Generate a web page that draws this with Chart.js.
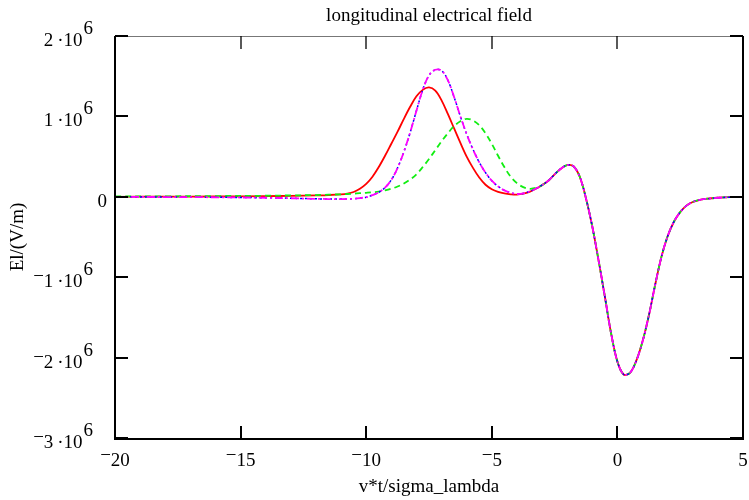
<!DOCTYPE html>
<html>
<head>
<meta charset="utf-8">
<script src="https://cdn.jsdelivr.net/npm/chart.js@4.4.1/dist/chart.umd.min.js"></script>
<style>
  html, body { margin: 0; padding: 0; background: #fff; }
  canvas { display: block; }
</style>
</head>
<body>
<canvas id="fieldChart" width="749" height="500"></canvas>
<script>
// x: v*t/sigma_lambda
const xValues = [-20, -18, -16, -14, -13, -12, -11.5, -11, -10.75, -10.5, -10.25, -10,
  -9.75, -9.5, -9.25, -9, -8.75, -8.5, -8.25, -8, -7.75, -7.5, -7.25, -7,
  -6.75, -6.5, -6.25, -6, -5.75, -5.5, -5.25, -5, -4.75, -4.5, -4.25, -4,
  -3.75, -3.5, -3.25,
  -3, -2.75, -2.5, -2.25, -2, -1.75, -1.5, -1.25, -1, -0.75, -0.5, -0.25,
  0, 0.25, 0.5, 0.75, 1, 1.25, 1.5, 1.75, 2, 2.25, 2.5, 2.75, 3, 3.25, 3.5, 4, 4.5, 5];

// El in 1e6 V/m, first part (x < -3) differs per curve
const redHead = [0, 0.002, 0.004, 0.008, 0.012, 0.018, 0.022, 0.03, 0.04, 0.06, 0.1, 0.16,
  0.25, 0.37, 0.51, 0.66, 0.81, 0.97, 1.12, 1.25, 1.33, 1.36, 1.32, 1.2,
  1.03, 0.85, 0.67, 0.5, 0.36, 0.24, 0.15, 0.095, 0.062, 0.042, 0.031, 0.027,
  0.038, 0.062, 0.1];
const greenHead = [0.004, 0.006, 0.009, 0.013, 0.017, 0.022, 0.026, 0.031, 0.035, 0.04, 0.045, 0.05,
  0.056, 0.065, 0.08, 0.1, 0.128, 0.165, 0.215, 0.28, 0.37, 0.47, 0.58, 0.69,
  0.79, 0.88, 0.94, 0.97, 0.95, 0.89, 0.79, 0.66, 0.51, 0.37, 0.25, 0.17,
  0.12, 0.1, 0.11];
const magentaHead = [0, -0.003, -0.006, -0.012, -0.018, -0.025, -0.028, -0.028, -0.027, -0.024, -0.016, -0.005,
  0.02, 0.055, 0.115, 0.21, 0.36, 0.56, 0.8, 1.07, 1.33, 1.51, 1.58, 1.57,
  1.45, 1.24, 1.0, 0.78, 0.59, 0.43, 0.3, 0.2, 0.13, 0.08, 0.05, 0.035,
  0.042, 0.066, 0.1];
// x >= -3: all curves lie on top of each other
const commonTail = [0.145, 0.2, 0.28, 0.35, 0.395, 0.38, 0.25, -0.02, -0.37, -0.79, -1.24, -1.7,
  -2.05, -2.21, -2.19, -2.04, -1.8, -1.48, -1.1, -0.75, -0.49, -0.31, -0.19, -0.11, -0.065, -0.04, -0.027,
  -0.012, -0.004, 0];

const xTicks = [-20, -15, -10, -5, 0, 5];
const yTicks = [-3, -2, -1, 0, 1, 2];   // times 10^6
const UNIT = 1e6;

const FONT = '19px "Liberation Serif", "Times New Roman", serif';

function toPoints(head) {
    const ys = head.concat(commonTail);
    return xValues.map((x, i) => ({ x: x, y: ys[i] * UNIT }));
}

// number with the raised minus sign of the original
function drawSigned(ctx, str, x, y, align) {
    const neg = str.startsWith('-');
    const body = neg ? str.slice(1) : str;
    const wm = neg ? ctx.measureText('\u2212').width : 0;
    const total = wm + ctx.measureText(body).width;
    let left = x;
    if (align === 'center') left = x - total / 2;
    if (align === 'right') left = x - total;
    ctx.textAlign = 'left';
    if (neg) ctx.fillText('\u2212', left, y - 5);
    ctx.fillText(body, left + wm, y);
}

const framePlugin = {
    id: 'frame',
    afterDraw(chart) {
        const ctx = chart.ctx;
        const a = chart.chartArea;
        const xs = chart.scales.x, ys = chart.scales.y;
        ctx.save();
        ctx.lineCap = 'butt';

        // top line, thin gray
        ctx.strokeStyle = '#777';
        ctx.lineWidth = 1;
        ctx.beginPath();
        ctx.moveTo(a.left, a.top + 0.5);
        ctx.lineTo(a.right, a.top + 0.5);
        ctx.stroke();

        ctx.strokeStyle = '#000';
        ctx.lineWidth = 2;
        ctx.beginPath();
        ctx.moveTo(a.left, a.top);
        ctx.lineTo(a.left, a.bottom + 1);
        ctx.lineTo(a.right, a.bottom + 1);
        ctx.lineTo(a.right, a.top);
        ctx.stroke();

        // y ticks, inside on both sides
        yTicks.forEach(v => {
            const py = Math.round(ys.getPixelForValue(v * UNIT));
            ctx.beginPath();
            ctx.moveTo(a.left, py);
            ctx.lineTo(a.left + 13, py);
            ctx.moveTo(a.right - 13, py);
            ctx.lineTo(a.right, py);
            ctx.stroke();
        });
        // x ticks, bottom and top
        xTicks.forEach(v => {
            const px = Math.round(xs.getPixelForValue(v));
            ctx.lineWidth = 2;
            ctx.beginPath();
            ctx.moveTo(px, a.bottom);
            ctx.lineTo(px, a.bottom - 12);
            ctx.stroke();
            ctx.lineWidth = 1.3;
            ctx.beginPath();
            ctx.moveTo(px, a.top);
            ctx.lineTo(px, a.top + 13);
            ctx.stroke();
        });

        ctx.fillStyle = '#000';
        ctx.font = FONT;
        ctx.textBaseline = 'middle';

        // x tick labels
        xTicks.forEach(v => {
            drawSigned(ctx, String(v), xs.getPixelForValue(v), a.bottom + 23, 'center');
        });

        // y tick labels with 10^6
        yTicks.forEach(v => {
            const py = ys.getPixelForValue(v * UNIT) + 5;
            if (v === 0) {
                drawSigned(ctx, '0', 107, py, 'right');
                return;
            }
            const expW = ctx.measureText('6').width;
            const right = 93;
            ctx.textAlign = 'left';
            ctx.fillText('6', right - expW, py - 12);
            drawSigned(ctx, String(v) + '\u2009\u00b710', right - expW - 1, py, 'right');
        });

        // titles
        ctx.textAlign = 'center';
        ctx.fillText('longitudinal electrical field', (a.left + a.right) / 2, 16);
        ctx.fillText('v*t/sigma_lambda', (a.left + a.right) / 2, 487);
        ctx.save();
        ctx.translate(18, (a.top + a.bottom) / 2);
        ctx.rotate(-Math.PI / 2);
        ctx.fillText('El/(V/m)', 0, 0);
        ctx.restore();

        ctx.restore();
    }
};

const lineBase = {
    pointRadius: 0,
    fill: false,
    tension: 0.35
};

// first dataset is painted last, so magenta comes first
new Chart(document.getElementById('fieldChart'), {
    type: 'line',
    data: {
        datasets: [
            Object.assign({}, lineBase, {
                data: toPoints(magentaHead),
                borderColor: '#ff00ff',
                borderWidth: 1.8,
                borderDash: [8, 3, 2, 3]
            }),
            Object.assign({}, lineBase, {
                data: toPoints(magentaHead),
                borderColor: '#0000ff',
                borderWidth: 1.5,
                borderDash: [2, 3]
            }),
            Object.assign({}, lineBase, {
                data: toPoints(greenHead),
                borderColor: '#11ee11',
                borderWidth: 1.8,
                borderDash: [6, 4]
            }),
            Object.assign({}, lineBase, {
                data: toPoints(redHead),
                borderColor: '#ff0000',
                borderWidth: 1.8
            })
        ]
    },
    options: {
        responsive: false,
        animation: false,
        layout: { padding: { left: 115, right: 6, top: 36, bottom: 62 } },
        plugins: {
            legend: { display: false },
            tooltip: { enabled: false },
            title: { display: false }
        },
        scales: {
            x: { type: 'linear', min: -20, max: 5, display: false },
            y: { type: 'linear', min: -3 * UNIT, max: 2 * UNIT, display: false }
        }
    },
    plugins: [framePlugin]
});
</script>
</body>
</html>
